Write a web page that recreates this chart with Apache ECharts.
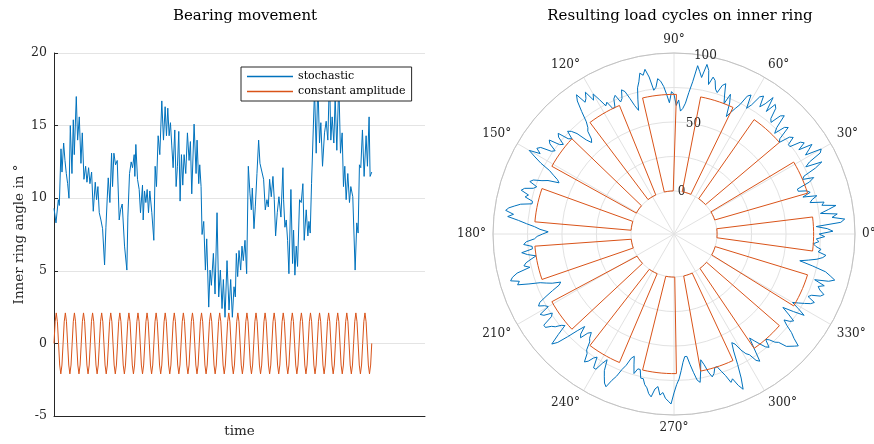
<!DOCTYPE html>
<html><head><meta charset="utf-8">
<script src="https://cdn.jsdelivr.net/npm/echarts@6/dist/echarts.min.js"></script>
<style>html,body{margin:0;padding:0;background:#fff}#c{width:874px;height:444px}</style>
</head><body><div id="c"></div>
<script>
// ---- left panel: bearing movement ----
const stochasticTime = [0,6,13,16,21,24,29,33,37,41,45,49,54,58,61,67,71,76,81,85,90,95,99,104,108,113,118,124,128,132,136,141,146,152,156,160,163,168,173,176,180,185,190,196,200,205,212,219,222,227,232,236,241,243,246,251,256,260,266,268,272,276,280,284,288,294,300,304,308,313,318,324,329,334,338,342,346,350,354,358,363,367,371,375,379,383,387,391,396,401,406,410,414,421,427,430,435,438,442,445,450,455,459,465,469,473,479,484,490,495,500,505,509,514,520,526,531,536,541,545,548,552,556,561,565,569,574,579,584,589,593,596,601,605,610,615,619,625,630,635,640,644,648,653,658,662,666,671,676,682,688,690,694,698,702,706,712,717,720,724,728,732,738,743,748,752,758,763,766,770,774,778,783,788,793,798,802,807,813,818,823,828,832,836,841,845,850,856,861,866,870,874,878,883,888,892,898,905,910,914,918,922,927,932,938,942,947,950,955];
const stochasticAngle = [9.3,8.3,9.9,9.5,13.4,11.8,13.8,12.6,11.7,11.0,10.0,15.0,11.7,15.4,13.0,17.0,14.0,15.6,12.4,14.5,11.3,12.2,11.1,12.1,11.0,11.8,9.1,11.1,9.9,10.8,9.0,8.5,7.9,5.4,8.0,10.0,11.4,9.7,13.1,10.8,13.1,12.3,12.6,8.5,9.2,9.6,6.7,5.05,8.7,11.7,12.5,12.1,13.0,11.5,13.7,11.3,10.6,9.0,10.9,8.5,10.5,9.7,10.6,9.0,10.5,9.0,7.1,12.2,10.8,14.3,13.0,16.7,14.0,16.3,14.3,16.2,14.3,15.2,13.6,12.1,14.7,10.8,12.2,14.6,9.8,13.0,10.9,13.0,11.7,14.5,12.6,13.9,10.3,15.1,11.7,14.0,11.0,12.3,10.8,7.5,8.4,5.05,7.2,2.5,5.05,4.0,6.2,3.4,9.0,3.2,5.05,2.4,4.4,1.8,5.7,2.3,4.4,1.8,3.9,3.2,6.2,4.6,6.4,5.05,6.7,5.7,7.1,4.8,12.2,10.3,9.2,10.7,7.9,9.4,11.7,14.0,12.4,12.3,11.3,9.2,9.9,9.4,11.3,10.1,11.5,9.9,7.4,9.0,10.1,8.7,12.1,9.9,8.0,8.5,7.1,4.8,10.6,5.5,7.8,4.7,6.7,5.3,9.9,9.7,11.0,7.1,9.2,7.4,8.4,7.6,11.0,11.0,17.5,13.1,18.0,13.8,15.2,12.2,14.5,15.3,14.0,18.5,14.0,15.6,13.8,17.0,13.3,18.0,13.1,14.5,10.8,12.2,9.9,11.7,9.7,10.8,10.1,5.05,8.3,7.6,12.3,12.1,14.7,11.5,14.3,12.2,15.6,11.5,11.8];
const sineCycleValues = [0, 1.49, 2.1, 1.49, 0, -1.49, -2.1, -1.49];
const sineCycleCount = 35;
const timeEnd = 955;
const timeAxisMax = 1115;
const yMin = -5, yMax = 20, yStep = 5;

// ---- right panel: load cycles on inner ring ----
const polarAngles = [
  0,1,2,3,4,5,6,7,8,9,10,11,12,13,14,15,16,17,18,19,20,21,22,23,24,25,26,27,28,29,
  30,31,32,33,34,35,36,37,38,39,40,41,42,43,44,45,46,47,48,49,50,51,52,53,54,55,56,57,58,59,
  60,61,62,63,64,65,66,67,68,69,70,71,72,73,74,75,76,77,78,79,80,81,82,83,84,85,86,87,88,89,
  90,91,92,93,94,95,96,97,98,99,100,101,102,103,104,105,106,107,108,109,110,111,112,113,114,115,116,117,118,119,
  120,121,122,123,124,125,126,127,128,129,130,131,132,133,134,135,136,137,138,139,140,141,142,143,144,145,146,147,148,149,
  150,151,152,153,154,155,156,157,158,159,160,161,162,163,164,165,166,167,168,169,170,171,172,173,174,175,176,177,178,179,
  180,181,182,183,184,185,186,187,188,189,190,191,192,193,194,195,196,197,198,199,200,201,202,203,204,205,206,207,208,209,
  210,211,212,213,214,215,216,217,218,219,220,221,222,223,224,225,226,227,228,229,230,231,232,233,234,235,236,237,238,239,
  240,241,242,243,244,245,246,247,248,249,250,251,252,253,254,255,256,257,258,259,260,261,262,263,264,265,266,267,268,269,
  270,271,272,273,274,275,276,277,278,279,280,281,282,283,284,285,286,287,288,289,290,291,292,293,294,295,296,297,298,299,
  300,301,302,303,304,305,306,307,308,309,310,311,312,313,314,315,316,317,318,319,320,321,322,323,324,325,326,327,328,329,
  330,331,332,333,334,335,336,337,338,339,340,341,342,343,344,345,346,347,348,349,350,351,352,353,354,355,356,357,358,359,360];
const polarCycles = [
  74,84,80,72,90,93,84,88,76,82, 88,78,80,70,72,76,66,72,70,64, 64,74,78,70,72,82,88,76,80,90,
  92,80,84,88,78,84,82,74,74,80, 78,70,72,82,80,72,76,86,84,76, 78,86,88,80,91,84,80,88,86,78,
  74,84,82,74,70,66,62,72,78,70, 76,84,82,76,78,84,86,80,90,94, 84,88,92,80,72,64,60,58,66,62,
  70,72,64,70,76,80,82,76,74,84, 90,86,88,82,78,70,62,66,72,78, 80,74,72,78,76,70,70,76,74,80,
  86,82,90,86,84,92,88,80,72,68, 66,60,58,62,70,74,76,70,72,80, 78,72,74,82,80,74,76,84,86,82,
  90,84,78,70,66,62,60,68,72,78, 80,74,76,82,84,78,80,74,74,82, 86,90,92,86,90,82,76,70,66,60,
  64,68,70,76,78,72,72,80,76,70, 74,78,80,76,86,90,92,86,88,80, 72,68,64,58,60,66,72,78,80,76,
  74,82,80,74,76,84,84,80,78,74, 72,80,88,84,76,68,62,68,70,64, 62,66,68,74,76,82,80,76,74,82,
  82,76,72,80,84,88,90,84,80,74, 70,64,62,68,74,70,70,76,76,80, 82,86,88,82,80,86,84,88,90,92,
  84,78,74,68,62,58,58,64,70,76, 78,70,62,66,72,76,74,70,70,74, 78,84,82,88,92,84,74,64,58,60,
  66,70,72,78,80,70,62,66,70,74, 76,70,72,76,78,84,84,88,90,84, 80,74,70,74,76,70,64,72,80,74,
  68,72,76,80,82,76,78,84,86,82, 80,84,76,86,90,86,82,72,62,68, 74,78,80,74,76,72,70,74,72,78, 74];
const binCenters = [0,24,48,72,96,120,144,168,192,216,240,264,288,312,336];
const binCounts = [70,70,70,70,70,70,70,70,70,70,70,70,70,70,70];
const binWidthDeg = 14;
const rMin = -31.25, rMax = 100;
const rGridMin = 0, rGridStep = 25;
const rLabelled = [0, 50, 100];

const BLUE = '#0072BD', ORANGE = '#D95319', INK = '#262626';
const FONT = 'DejaVu Serif';
const CX = 674, CY = 234, R = 181;
const rInner = R * (rGridMin - rMin) / (rMax - rMin);

const stochasticData = stochasticTime.map((t, i) => [t, stochasticAngle[i]]);
const sineData = [];
for (let c = 0; c < sineCycleCount; c++) {
  sineCycleValues.forEach((v, k) => {
    sineData.push([(c + k / sineCycleValues.length) * timeEnd / sineCycleCount, v]);
  });
}
sineData.push([timeEnd, sineCycleValues[0]]);

const polarData = polarAngles.map((a, i) => [polarCycles[i], a]);
const barPath = [];
binCenters.forEach((c, i) => {
  const a1 = c - binWidthDeg / 2, a2 = c + binWidthDeg / 2, v = binCounts[i], n = 7;
  for (let s = 0; s <= n; s++) barPath.push([v, a1 + (a2 - a1) * s / n]);
  for (let s = n; s >= 0; s--) barPath.push([0, a1 + (a2 - a1) * s / n]);
  barPath.push([v, a1]);
  barPath.push([NaN, NaN]);
});

const chart = echarts.init(document.getElementById('c'), null, {renderer: 'canvas'});
chart.setOption({
  animation: false,
  backgroundColor: '#fff',
  title: [
    {text: 'Bearing movement', left: 240, top: 4, textAlign: 'center',
     textStyle: {fontFamily: FONT, fontSize: 15, fontWeight: 'normal', color: '#000'}},
    {text: 'Resulting load cycles on inner ring', left: 675, top: 4, textAlign: 'center',
     textStyle: {fontFamily: FONT, fontSize: 15, fontWeight: 'normal', color: '#000'}}
  ],
  legend: {
    data: ['stochastic', 'constant amplitude'],
    orient: 'vertical', left: 241, top: 67,
    backgroundColor: '#fff', borderColor: INK, borderWidth: 1, borderRadius: 0,
    padding: [4, 6, 4, 6], itemGap: 4, itemWidth: 46, itemHeight: 1.5, icon: 'rect',
    textStyle: {fontFamily: FONT, fontSize: 11, color: '#000'}
  },
  grid: {left: 54, right: 449, top: 53, bottom: 28, containLabel: false},
  xAxis: {
    type: 'value', min: 0, max: timeAxisMax,
    name: 'time', nameLocation: 'middle', nameGap: 8,
    nameTextStyle: {fontFamily: FONT, fontSize: 13.5, color: INK},
    axisLine: {onZero: false, lineStyle: {color: INK, width: 1}},
    axisTick: {show: false}, axisLabel: {show: false}, splitLine: {show: false}
  },
  yAxis: {
    type: 'value', min: yMin, max: yMax, interval: yStep,
    name: 'Inner ring angle in °', nameLocation: 'middle', nameGap: 28,
    nameTextStyle: {fontFamily: FONT, fontSize: 13.5, color: INK},
    axisLine: {show: true, lineStyle: {color: INK, width: 1}},
    axisTick: {show: true, inside: true, length: 4, lineStyle: {color: INK}},
    axisLabel: {fontFamily: FONT, fontSize: 12.5, color: INK, margin: 7},
    splitLine: {show: true, lineStyle: {color: '#e4e4e4', width: 1}}
  },
  polar: [
    {center: [CX, CY], radius: R},
    {center: [CX, CY], radius: [rInner, R]}
  ],
  angleAxis: [
    {polarIndex: 0, type: 'value', min: 0, max: 360, interval: 30, startAngle: 0, clockwise: false,
     axisLine: {show: true, lineStyle: {color: '#c2c2c2', width: 1}},
     axisTick: {show: false},
     axisLabel: {margin: 7, fontFamily: FONT, fontSize: 12, color: INK,
                 formatter: v => (v >= 360 ? '' : v + '°')},
     splitLine: {show: true, lineStyle: {color: '#e2e2e2', width: 1}}},
    {polarIndex: 1, type: 'value', min: 0, max: 360, startAngle: 80, clockwise: false, show: false}
  ],
  radiusAxis: [
    {polarIndex: 0, type: 'value', min: rMin, max: rMax,
     axisLine: {show: false}, axisTick: {show: false}, axisLabel: {show: false}, splitLine: {show: false}},
    {polarIndex: 1, type: 'value', min: rGridMin, max: rMax, interval: rGridStep,
     axisLine: {show: false}, axisTick: {show: false},
     splitLine: {show: true, lineStyle: {color: '#e2e2e2', width: 1}},
     axisLabel: {show: true, margin: 0, align: 'center', verticalAlign: 'middle',
                 fontFamily: FONT, fontSize: 12, color: INK,
                 formatter: v => (rLabelled.indexOf(v) >= 0 ? String(v) : '')}}
  ],
  series: [
    {name: 'stochastic', type: 'line', xAxisIndex: 0, yAxisIndex: 0, data: stochasticData,
     symbol: 'none', lineStyle: {color: BLUE, width: 1}, itemStyle: {color: BLUE}, z: 2},
    {name: 'constant amplitude', type: 'line', xAxisIndex: 0, yAxisIndex: 0, data: sineData,
     symbol: 'none', lineStyle: {color: ORANGE, width: 1}, itemStyle: {color: ORANGE}, z: 3},
    {name: 'stochastic polar', type: 'line', coordinateSystem: 'polar', polarIndex: 0, data: polarData,
     symbol: 'none', lineStyle: {color: BLUE, width: 1}, itemStyle: {color: BLUE}, z: 2, clip: false},
    {name: 'constant polar', type: 'line', coordinateSystem: 'polar', polarIndex: 0, data: barPath,
     symbol: 'none', connectNulls: false, lineStyle: {color: ORANGE, width: 1}, itemStyle: {color: ORANGE}, z: 3, clip: false}
  ]
});
</script>
</body></html>
